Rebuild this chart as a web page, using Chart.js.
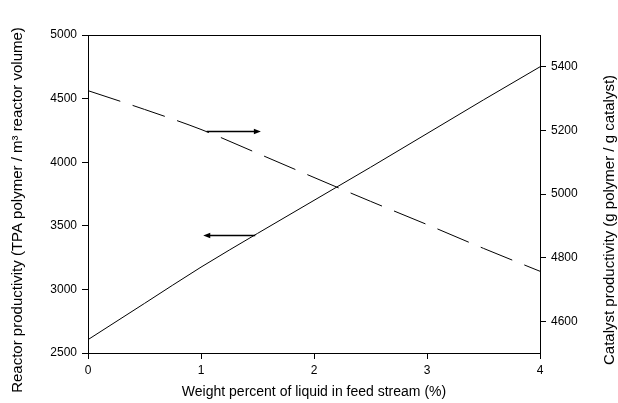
<!DOCTYPE html>
<html>
<head>
<meta charset="utf-8">
<script src="https://cdn.jsdelivr.net/npm/chart.js@4"></script>
<style>
html,body{margin:0;padding:0;background:#fff;}
#wrap{width:618px;height:403px;position:relative;}
</style>
</head>
<body>
<div id="wrap"><canvas id="c" width="618" height="403"></canvas></div>
<script>
// ---- data ----
const liquidPercent = [0, 0.5, 1, 1.5, 2, 2.5, 3, 3.5, 4];
const reactorProductivity = [2605, 2890, 3175, 3440, 3700, 3960, 4225, 4490, 4750];
const catalystProductivity = [5325, 5266, 5203, 5128, 5052, 4977, 4904, 4829, 4757];
const leftTicks = [2500, 3000, 3500, 4000, 4500, 5000];
const rightTicks = [4600, 4800, 5000, 5200, 5400];
const xTicks = [0, 1, 2, 3, 4];
const xTitle = 'Weight percent of liquid in feed stream (%)';
const leftTitle = 'Reactor productivity (TPA polymer / m\u00B3 reactor volume)';
const rightTitle = 'Catalyst productivity (g polymer / g catalyst)';
// arrow annotations in data coordinates: [xFrom, xTo, y, axis]
const arrowCatalyst = [1.05, 1.53, 5198, 'y1'];
const arrowReactor = [1.48, 1.02, 3428, 'y'];

const FONT = 'Liberation Sans, Arial, sans-serif';

const pts = (ys) => liquidPercent.map((x, i) => ({x: x, y: ys[i]}));

const framePlugin = {
  id: 'frame',
  afterDraw(chart) {
    const ctx = chart.ctx, a = chart.chartArea;
    ctx.save();
    ctx.strokeStyle = '#000';
    ctx.lineWidth = 1;
    ctx.strokeRect(Math.round(a.left) + 0.5, Math.round(a.top) + 0.5,
                   Math.round(a.right - a.left), Math.round(a.bottom - a.top));
    // arrows
    const drawArrow = (arr) => {
      const xs = chart.scales.x, ys = chart.scales[arr[3]];
      const x1 = xs.getPixelForValue(arr[0]);
      const x2 = xs.getPixelForValue(arr[1]);
      const y = Math.round(ys.getPixelForValue(arr[2])) + 0.5;
      ctx.strokeStyle = '#000';
      ctx.fillStyle = '#000';
      ctx.lineWidth = 1.3;
      const dir = Math.sign(x2 - x1);
      ctx.beginPath();
      ctx.moveTo(x1, y);
      ctx.lineTo(x2 - dir * 4, y);
      ctx.stroke();
      ctx.beginPath();
      ctx.moveTo(x2, y);
      ctx.lineTo(x2 - dir * 7, y - 2.8);
      ctx.lineTo(x2 - dir * 7, y + 2.8);
      ctx.closePath();
      ctx.fill();
    };
    drawArrow(arrowCatalyst);
    drawArrow(arrowReactor);
    // titles
    ctx.fillStyle = '#000';
    ctx.textAlign = 'center';
    ctx.textBaseline = 'middle';
    ctx.font = '14px ' + FONT;
    ctx.fillText(xTitle, (a.left + a.right) / 2, 392);
    ctx.font = '15px ' + FONT;
    ctx.save();
    ctx.translate(18, 210);
    ctx.rotate(-Math.PI / 2);
    ctx.fillText(leftTitle, 0, 0);
    ctx.restore();
    ctx.save();
    ctx.translate(610, 220);
    ctx.rotate(-Math.PI / 2);
    ctx.fillText(rightTitle, 0, 0);
    ctx.restore();
    ctx.restore();
  }
};

const plain = (v) => String(v);

new Chart(document.getElementById('c'), {
  type: 'line',
  data: {
    datasets: [
      {
        label: 'Reactor productivity',
        data: pts(reactorProductivity),
        yAxisID: 'y',
        borderColor: '#000',
        borderWidth: 1,
        pointRadius: 0,
        cubicInterpolationMode: 'monotone',
        fill: false
      },
      {
        label: 'Catalyst productivity',
        data: pts(catalystProductivity),
        yAxisID: 'y1',
        borderColor: '#000',
        borderWidth: 1,
        borderDash: [34, 13],
        pointRadius: 0,
        cubicInterpolationMode: 'monotone',
        fill: false
      }
    ]
  },
  options: {
    responsive: false,
    animation: false,
    devicePixelRatio: 1,
    layout: {padding: {top: 35, left: 0, right: 0, bottom: 0}},
    plugins: {legend: {display: false}, tooltip: {enabled: false}},
    scales: {
      x: {
        type: 'linear',
        min: 0, max: 4,
        afterBuildTicks(s) { s.ticks = xTicks.map(v => ({value: v})); },
        afterFit(s) { s.height = 50; },
        grid: {drawOnChartArea: false, tickLength: 6, color: '#000'},
        border: {display: true, color: '#000'},
        ticks: {color: '#000', font: {family: FONT, size: 12}, padding: 4, maxRotation: 0, callback: plain}
      },
      y: {
        type: 'linear',
        position: 'left',
        min: 2500, max: 5000,
        afterBuildTicks(s) { s.ticks = leftTicks.map(v => ({value: v})); },
        afterFit(s) { s.width = 88; },
        grid: {drawOnChartArea: false, tickLength: 6, color: '#000'},
        border: {display: true, color: '#000'},
        ticks: {color: '#000', font: {family: FONT, size: 12}, padding: 5, callback: plain}
      },
      y1: {
        type: 'linear',
        position: 'right',
        min: 4500, max: 5500,
        afterBuildTicks(s) { s.ticks = rightTicks.map(v => ({value: v})); },
        afterFit(s) { s.width = 78; },
        grid: {drawOnChartArea: false, tickLength: 6, color: '#000'},
        border: {display: true, color: '#000'},
        ticks: {color: '#000', font: {family: FONT, size: 12}, padding: 5, callback: plain}
      }
    }
  },
  plugins: [framePlugin]
});
</script>
</body>
</html>
